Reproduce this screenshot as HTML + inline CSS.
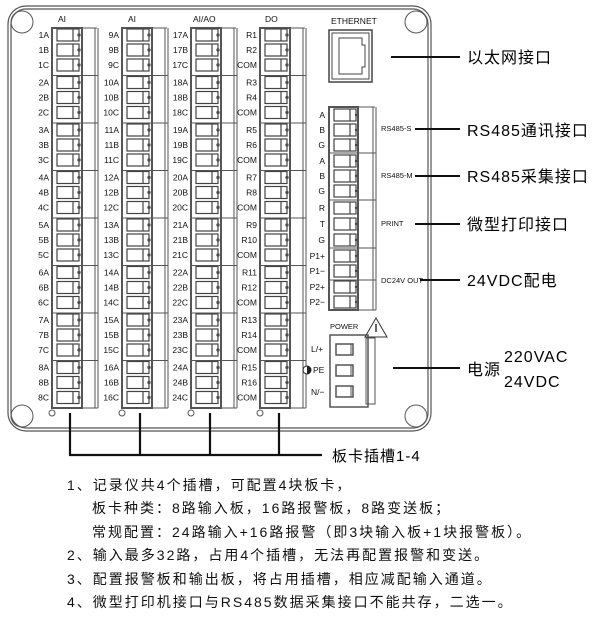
<!DOCTYPE html>
<html><head><meta charset="utf-8"><style>
html,body{margin:0;padding:0;background:#fff;}
svg{display:block}
.l{font-family:"Liberation Sans",sans-serif;font-size:8.5px;fill:#111;text-anchor:end}
.h{font-family:"Liberation Sans",sans-serif;font-size:8.5px;fill:#111}
.big{font-family:"Liberation Sans","Noto Sans CJK SC",sans-serif;font-size:16px;fill:#000;letter-spacing:1px}
.n{font-family:"Liberation Sans","Noto Sans CJK SC",sans-serif;font-size:14px;fill:#111;letter-spacing:2px}
</style></head><body>
<svg width="602" height="625" viewBox="0 0 602 625" xmlns="http://www.w3.org/2000/svg">
<defs>
<g id="t"><rect x="5" y="-6" width="22" height="12" fill="#fff" stroke="#444" stroke-width="1.2"/><line x1="21" y1="-6" x2="21" y2="6" stroke="#444" stroke-width="1.2"/><circle cx="27" cy="0" r="1.2" fill="#444"/></g>
<g id="g3"><use href="#t" y="7"/><use href="#t" y="22"/><use href="#t" y="37"/></g>
<g id="col" fill="none" stroke="#555">
<rect x="0" y="0" width="30" height="380" stroke-width="2"/>
<line x1="30" y1="0" x2="45" y2="0"/>
<line x1="43" y1="0" x2="43" y2="380"/><line x1="46" y1="0" x2="46" y2="380"/>
<line x1="0" y1="47.5" x2="46" y2="47.5"/><line x1="0" y1="95" x2="46" y2="95"/><line x1="0" y1="142.5" x2="46" y2="142.5"/><line x1="0" y1="190" x2="46" y2="190"/><line x1="0" y1="237.5" x2="46" y2="237.5"/><line x1="0" y1="285" x2="46" y2="285"/><line x1="0" y1="332.5" x2="46" y2="332.5"/>
<line x1="30" y1="380" x2="46" y2="380"/>
<use href="#g3" y="0"/><use href="#g3" y="47.5"/><use href="#g3" y="95"/><use href="#g3" y="142.5"/><use href="#g3" y="190"/><use href="#g3" y="237.5"/><use href="#g3" y="285"/><use href="#g3" y="332.5"/>
</g>
</defs>
<rect x="8" y="6" width="423" height="425" rx="18" fill="none" stroke="#555" stroke-width="1.2"/>
<rect x="11" y="9" width="417" height="419" rx="15" fill="none" stroke="#555" stroke-width="1.2"/>
<circle cx="22" cy="22" r="11" fill="none" stroke="#555"/>
<circle cx="416" cy="22" r="11" fill="none" stroke="#555"/>
<circle cx="22" cy="416" r="11" fill="none" stroke="#555"/>
<circle cx="416" cy="416" r="11" fill="none" stroke="#555"/>
<g transform="translate(52,28)"><use href="#col"/></g>
<g transform="translate(122,28)"><use href="#col"/></g>
<g transform="translate(191,28)"><use href="#col"/></g>
<g transform="translate(260,28)"><use href="#col"/></g>
<text class="h" x="58" y="22">AI</text><text class="h" x="128" y="22">AI</text><text class="h" x="193" y="22">AI/AO</text><text class="h" x="265" y="22">DO</text>
<g class="l">
<text x="49" y="38">1A</text><text x="49" y="53">1B</text><text x="49" y="68">1C</text>
<text x="49" y="85.5">2A</text><text x="49" y="100.5">2B</text><text x="49" y="115.5">2C</text>
<text x="49" y="133">3A</text><text x="49" y="148">3B</text><text x="49" y="163">3C</text>
<text x="49" y="180.5">4A</text><text x="49" y="195.5">4B</text><text x="49" y="210.5">4C</text>
<text x="49" y="228">5A</text><text x="49" y="243">5B</text><text x="49" y="258">5C</text>
<text x="49" y="275.5">6A</text><text x="49" y="290.5">6B</text><text x="49" y="305.5">6C</text>
<text x="49" y="323">7A</text><text x="49" y="338">7B</text><text x="49" y="353">7C</text>
<text x="49" y="370.5">8A</text><text x="49" y="385.5">8B</text><text x="49" y="400.5">8C</text>
<text x="119" y="38">9A</text><text x="119" y="53">9B</text><text x="119" y="68">9C</text>
<text x="119" y="85.5">10A</text><text x="119" y="100.5">10B</text><text x="119" y="115.5">10C</text>
<text x="119" y="133">11A</text><text x="119" y="148">11B</text><text x="119" y="163">11C</text>
<text x="119" y="180.5">12A</text><text x="119" y="195.5">12B</text><text x="119" y="210.5">12C</text>
<text x="119" y="228">13A</text><text x="119" y="243">13B</text><text x="119" y="258">13C</text>
<text x="119" y="275.5">14A</text><text x="119" y="290.5">14B</text><text x="119" y="305.5">14C</text>
<text x="119" y="323">15A</text><text x="119" y="338">15B</text><text x="119" y="353">15C</text>
<text x="119" y="370.5">16A</text><text x="119" y="385.5">16B</text><text x="119" y="400.5">16C</text>
<text x="188" y="38">17A</text><text x="188" y="53">17B</text><text x="188" y="68">17C</text>
<text x="188" y="85.5">18A</text><text x="188" y="100.5">18B</text><text x="188" y="115.5">18C</text>
<text x="188" y="133">19A</text><text x="188" y="148">19B</text><text x="188" y="163">19C</text>
<text x="188" y="180.5">20A</text><text x="188" y="195.5">20B</text><text x="188" y="210.5">20C</text>
<text x="188" y="228">21A</text><text x="188" y="243">21B</text><text x="188" y="258">21C</text>
<text x="188" y="275.5">22A</text><text x="188" y="290.5">22B</text><text x="188" y="305.5">22C</text>
<text x="188" y="323">23A</text><text x="188" y="338">23B</text><text x="188" y="353">23C</text>
<text x="188" y="370.5">24A</text><text x="188" y="385.5">24B</text><text x="188" y="400.5">24C</text>
<text x="257" y="38">R1</text><text x="257" y="53">R2</text><text x="257" y="68">COM</text>
<text x="257" y="85.5">R3</text><text x="257" y="100.5">R4</text><text x="257" y="115.5">COM</text>
<text x="257" y="133">R5</text><text x="257" y="148">R6</text><text x="257" y="163">COM</text>
<text x="257" y="180.5">R7</text><text x="257" y="195.5">R8</text><text x="257" y="210.5">COM</text>
<text x="257" y="228">R9</text><text x="257" y="243">R10</text><text x="257" y="258">COM</text>
<text x="257" y="275.5">R11</text><text x="257" y="290.5">R12</text><text x="257" y="305.5">COM</text>
<text x="257" y="323">R13</text><text x="257" y="338">R14</text><text x="257" y="353">COM</text>
<text x="257" y="370.5">R15</text><text x="257" y="385.5">R16</text><text x="257" y="400.5">COM</text>
</g>
<g fill="#fff" stroke="#555"><circle cx="52" cy="413" r="3"/><circle cx="122" cy="413" r="3"/><circle cx="191" cy="413" r="3"/><circle cx="260" cy="413" r="3"/></g>
<g stroke="#111" stroke-width="2.2" fill="none">
<line x1="70" y1="413" x2="70" y2="455"/><line x1="140" y1="413" x2="140" y2="455"/><line x1="210" y1="413" x2="210" y2="455"/><line x1="279" y1="413" x2="279" y2="455"/>
<line x1="69" y1="455" x2="322" y2="455"/>
</g>
<text class="big" x="332" y="461" style="font-size:15px">板卡插槽1-4</text>
<text class="h" x="331" y="24">ETHERNET</text>
<rect x="329" y="30" width="43" height="52" fill="none" stroke="#444" stroke-width="1.5"/>
<rect x="332" y="33" width="37" height="46" fill="none" stroke="#444"/>
<path d="M339 38 H362 V45 H365 V67 H362 V74 H339 Z" fill="none" stroke="#444"/>
<g fill="none" stroke="#555">
<rect x="329" y="107" width="29" height="203" stroke-width="2"/>
<line x1="358" y1="107" x2="375" y2="107"/>
<line x1="373" y1="107" x2="373" y2="310"/><line x1="376" y1="107" x2="376" y2="310"/>
<line x1="329" y1="153" x2="376" y2="153"/><line x1="329" y1="200" x2="376" y2="200"/><line x1="329" y1="248" x2="376" y2="248"/><line x1="329" y1="280" x2="376" y2="280"/>
<line x1="358" y1="310" x2="376" y2="310"/>
</g>
<g transform="translate(329,0)"><use href="#t" y="115"/><use href="#t" y="130"/><use href="#t" y="145"/><use href="#t" y="161"/><use href="#t" y="176"/><use href="#t" y="191"/><use href="#t" y="208"/><use href="#t" y="224"/><use href="#t" y="240"/><use href="#t" y="256"/><use href="#t" y="271"/><use href="#t" y="287"/><use href="#t" y="302"/></g>
<g class="l"><text x="325" y="118">A</text><text x="325" y="133">B</text><text x="325" y="148">G</text><text x="325" y="164">A</text><text x="325" y="179">B</text><text x="325" y="194">G</text><text x="325" y="211">R</text><text x="325" y="227">T</text><text x="325" y="243">G</text><text x="325" y="259">P1+</text><text x="325" y="274">P1−</text><text x="325" y="290">P2+</text><text x="325" y="305">P2−</text></g>
<g class="h" style="font-size:7.5px"><text x="381" y="131">RS485-S</text><text x="381" y="178">RS485-M</text><text x="381" y="226">PRINT</text><text x="381" y="283">DC24V OUT</text></g>
<text class="h" x="330" y="329" style="font-size:7.5px">POWER</text>
<path d="M376 318 L365 337 L387 337 Z" fill="#fff" stroke="#333"/>
<line x1="376" y1="324" x2="376" y2="332" stroke="#333" stroke-width="1.5"/>
<g fill="none" stroke="#555">
<rect x="330" y="335" width="38" height="72" stroke-width="1.5"/>
<rect x="366" y="338" width="9" height="66"/>
<rect x="336" y="344" width="17" height="11" stroke-width="1.5"/><line x1="351" y1="344" x2="351" y2="355"/>
<rect x="336" y="365" width="17" height="11" stroke-width="1.5"/><line x1="351" y1="365" x2="351" y2="376"/>
<rect x="336" y="386" width="17" height="11" stroke-width="1.5"/><line x1="351" y1="386" x2="351" y2="397"/>
</g>
<g class="h"><text x="311" y="352">L/+</text><text x="313" y="373">PE</text><text x="311" y="395">N/−</text></g>
<circle cx="307" cy="370" r="4" fill="#fff" stroke="#222"/><path d="M307 366 A4 4 0 0 1 307 374 Z" fill="#222"/>
<g stroke="#111" stroke-width="2">
<line x1="391" y1="57" x2="460" y2="57"/>
<line x1="415" y1="129" x2="460" y2="129"/>
<line x1="415" y1="176" x2="460" y2="176"/>
<line x1="415" y1="224" x2="460" y2="224"/>
<line x1="420" y1="280" x2="460" y2="280"/>
<line x1="393" y1="368" x2="460" y2="368"/>
</g>
<g class="big">
<text x="467" y="63">以太网接口</text>
<text x="467" y="136">RS485通讯接口</text>
<text x="467" y="182">RS485采集接口</text>
<text x="467" y="230">微型打印接口</text>
<text x="467" y="286">24VDC配电</text>
<text x="467" y="375">电源</text>
<text x="504" y="362">220VAC</text>
<text x="504" y="387">24VDC</text>
</g>
<g class="n">
<text x="67" y="490">1、记录仪共4个插槽，可配置4块板卡，</text>
<text x="92" y="513">板卡种类：8路输入板，16路报警板，8路变送板；</text>
<text x="92" y="537">常规配置：24路输入+16路报警（即3块输入板+1块报警板）。</text>
<text x="67" y="560">2、输入最多32路，占用4个插槽，无法再配置报警和变送。</text>
<text x="67" y="584">3、配置报警板和输出板，将占用插槽，相应减配输入通道。</text>
<text x="67" y="607">4、微型打印机接口与RS485数据采集接口不能共存，二选一。</text>
</g>
</svg>
</body></html>
